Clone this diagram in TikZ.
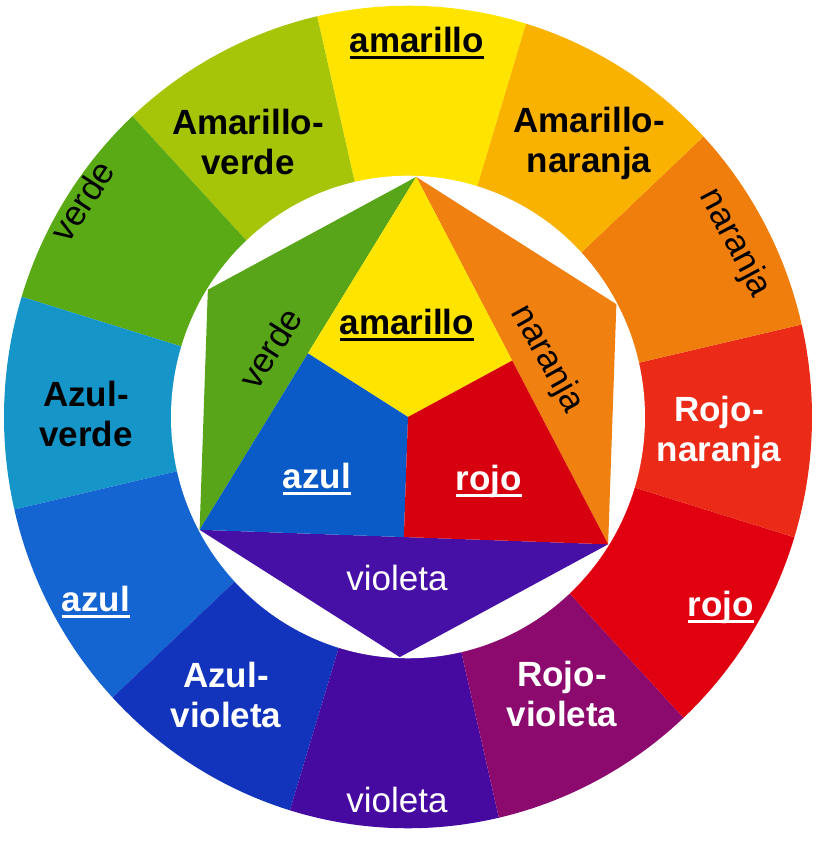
\documentclass[tikz,border=0pt]{standalone}
\usepackage{fontspec}
\setmainfont{Liberation Sans}
\usepackage{xcolor}
\usepackage{tikz}
\usetikzlibrary{calc}

\definecolor{amarilloC}{RGB}{255,228,0}
\definecolor{amaVerdeC}{RGB}{166,196,8}
\definecolor{verdeC}{RGB}{90,170,22}
\definecolor{azulVerdeC}{RGB}{22,150,200}
\definecolor{azulC}{RGB}{20,100,210}
\definecolor{azulVioletaC}{RGB}{18,52,188}
\definecolor{violetaC}{RGB}{70,10,160}
\definecolor{rojoVioletaC}{RGB}{140,10,110}
\definecolor{rojoC}{RGB}{225,0,15}
\definecolor{rojoNaranjaC}{RGB}{235,42,24}
\definecolor{naranjaC}{RGB}{240,126,12}
\definecolor{amaNaranjaC}{RGB}{250,178,0}
% inner triangle
\definecolor{verdeI}{RGB}{88,165,25}
\definecolor{naranjaI}{RGB}{240,128,15}
\definecolor{azulI}{RGB}{10,90,200}
\definecolor{rojoI}{RGB}{215,0,15}
\definecolor{violetaI}{RGB}{70,15,165}

\newcommand{\ulword}[1]{\setbox0\hbox{#1}\rlap{\rule[-7pt]{\wd0}{3.5pt}}\box0}

\begin{document}
\begin{tikzpicture}[x=1pt, y=1pt,
    boldlbl/.style={font=\fontsize{35}{40}\selectfont\bfseries, align=center, inner sep=0pt},
    thinlbl/.style={font=\fontsize{35}{40}\selectfont, align=center, inner sep=0pt}]
    \useasboundingbox (-408,-445) rectangle (409,417);

    % Outer ring
    \begin{scope}[yscale=1.018]
        \fill[amarilloC] (0,0) -- (73:404) arc[start angle=73, end angle=103, radius=404] -- cycle;
        \fill[amaVerdeC] (0,0) -- (103:404) arc[start angle=103, end angle=133, radius=404] -- cycle;
        \fill[verdeC] (0,0) -- (133:404) arc[start angle=133, end angle=163, radius=404] -- cycle;
        \fill[azulVerdeC] (0,0) -- (163:404) arc[start angle=163, end angle=193, radius=404] -- cycle;
        \fill[azulC] (0,0) -- (193:404) arc[start angle=193, end angle=223, radius=404] -- cycle;
        \fill[azulVioletaC] (0,0) -- (223:404) arc[start angle=223, end angle=253, radius=404] -- cycle;
        \fill[violetaC] (0,0) -- (253:404) arc[start angle=253, end angle=283, radius=404] -- cycle;
        \fill[rojoVioletaC] (0,0) -- (283:404) arc[start angle=283, end angle=313, radius=404] -- cycle;
        \fill[rojoC] (0,0) -- (313:404) arc[start angle=313, end angle=343, radius=404] -- cycle;
        \fill[rojoNaranjaC] (0,0) -- (343:404) arc[start angle=343, end angle=373, radius=404] -- cycle;
        \fill[naranjaC] (0,0) -- (13:404) arc[start angle=13, end angle=43, radius=404] -- cycle;
        \fill[amaNaranjaC] (0,0) -- (43:404) arc[start angle=43, end angle=73, radius=404] -- cycle;
        \fill[white] (0,0) circle[radius=237];
        % hexagon corners
        \coordinate (vY) at (88:236);
        \coordinate (vG) at (148:236);
        \coordinate (vB) at (208:236);
        \coordinate (vV) at (268:236);
        \coordinate (vR) at (328:236);
        \coordinate (vO) at (28:236);
    \end{scope}

    % Inner triangle
    \coordinate (cen) at (0,0);
    \coordinate (mYB) at ($(vY)!0.5!(vB)$);
    \coordinate (mYR) at ($(vY)!0.5!(vR)$);
    \coordinate (mBR) at ($(vB)!0.5!(vR)$);
    \fill[verdeI] (vY) -- (vG) -- (vB) -- cycle;
    \fill[naranjaI] (vY) -- (vO) -- (vR) -- cycle;
    \fill[violetaI] (vB) -- (vV) -- (vR) -- cycle;
    \fill[amarilloC] (vY) -- (mYB) -- (cen) -- (mYR) -- cycle;
    \fill[azulI] (vB) -- (mBR) -- (cen) -- (mYB) -- cycle;
    \fill[rojoI] (vR) -- (mYR) -- (cen) -- (mBR) -- cycle;

    % Labels, outer ring
    \node[boldlbl] (oAmarillo) at (9,374) {\ulword{amarillo}};
    \node[boldlbl] (oAmaVerde) at (-160,275) {Amarillo-\\verde};
    \node[boldlbl] (oAmaNaranja) at (181,274) {Amarillo-\\naranja};
    \node[thinlbl, rotate=57] (oVerde) at (-326,216) {verde};
    \node[thinlbl, rotate=-62] (oNaranja) at (28:370) {naranja};
    \node[boldlbl] (oAzulVerde) at (-322,3) {Azul-\\verde};
    \node[boldlbl, white] (oRojoNaranja) at (311,-15) {Rojo-\\naranja};
    \node[boldlbl, white] (oAzul) at (-312,-185) {\ulword{azul}};
    \node[boldlbl, white] (oRojo) at (313,-190) {\ulword{rojo}};
    \node[boldlbl, white] (oAzulVioleta) at (-182,-278) {Azul-\\violeta};
    \node[boldlbl, white] (oRojoVioleta) at (154,-277) {Rojo-\\violeta};
    \node[thinlbl, white] (oVioleta) at (-11,-383) {violeta};

    % Labels, inner triangle
    \node[boldlbl] (iAmarillo) at (-1,92) {\ulword{amarillo}};
    \node[thinlbl, rotate=58] (iVerde) at (-138,69) {verde};
    \node[thinlbl, rotate=-61] (iNaranja) at (139,58) {naranja};
    \node[boldlbl, white] (iAzul) at (-91,-62) {\ulword{azul}};
    \node[boldlbl, white] (iRojo) at (81,-64) {\ulword{rojo}};
    \node[thinlbl, white] (iVioleta) at (-11,-161) {violeta};
\end{tikzpicture}
\end{document}
